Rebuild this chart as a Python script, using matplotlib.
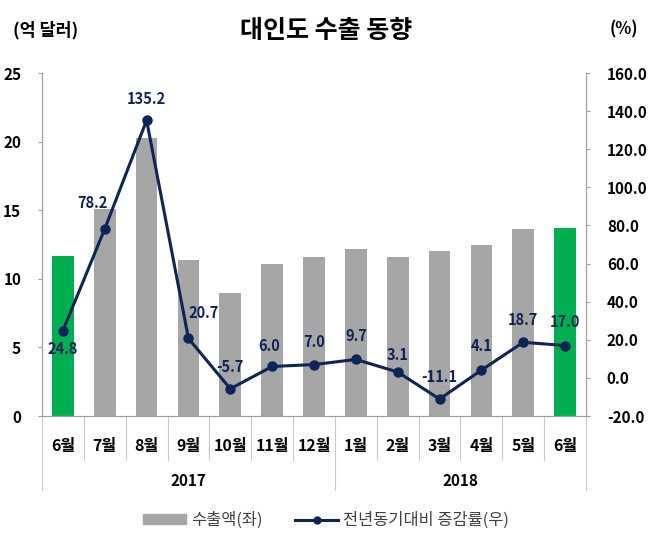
import matplotlib
matplotlib.use("Agg")
import matplotlib.pyplot as plt
from matplotlib.lines import Line2D
from matplotlib.patches import Patch

plt.rcParams['font.family'] = ['Noto Sans CJK KR', 'DejaVu Sans']

months = ["6월", "7월", "8월", "9월", "10월", "11월", "12월",
          "1월", "2월", "3월", "4월", "5월", "6월"]
years = ["2017", "2018"]
exports = [11.7, 15.1, 20.3, 11.4, 9.0, 11.1, 11.6, 12.2, 11.6, 12.0, 12.5, 13.6, 13.7]
growth = [24.8, 78.2, 135.2, 20.7, -5.7, 6.0, 7.0, 9.7, 3.1, -11.1, 4.1, 18.7, 17.0]

GRAY = "#A6A6A6"
GREEN = "#00B050"
NAVY = "#0D2457"
AXIS = "#A0A0A0"

# label offsets in points (dx, dy)
label_off = [(0, -13), (-9, 19), (0, 15), (11, 18), (0, 16), (-2, 15), (0, 16),
             (0, 17), (0, 12), (0, 16), (0, 17), (0, 16), (0, 17)]

fig = plt.figure(figsize=(6.52, 5.41), dpi=100)
ax = fig.add_axes([0.0644, 0.231, 0.8344, 0.634])
ax2 = ax.twinx()

x = list(range(len(months)))
colors = [GREEN] + [GRAY] * (len(months) - 2) + [GREEN]
ax.bar(x, exports, width=0.52, color=colors, zorder=2)

ax.set_xlim(-0.5, len(months) - 0.5)
ax.set_ylim(0, 25)
ax.set_yticks(range(0, 26, 5))
ax2.set_ylim(-20, 160)
ax2.set_yticks(range(-20, 161, 20))
ax2.set_yticklabels([f"{v:.1f}" for v in range(-20, 161, 20)])

for a in (ax, ax2):
    a.spines['top'].set_visible(False)
    for s in ('left', 'right', 'bottom'):
        a.spines[s].set_color(AXIS)
    a.tick_params(axis='y', length=3, color=AXIS, labelsize=11, pad=12)
    for lab in a.get_yticklabels():
        lab.set_fontweight('bold')

ax.set_xticks(x)
ax.set_xticklabels(months, fontsize=11.5, fontweight='bold')
ax.tick_params(axis='x', length=0, pad=16)

# category separators below the axis
trans = ax.get_xaxis_transform()
for i in range(len(months) + 1):
    pos = i - 0.5
    low = -0.216 if i in (0, 7, len(months)) else -0.128
    ax.plot([pos, pos], [0, low], transform=trans, color="#C8C8C8", lw=0.8, clip_on=False)

ax.text(3, -0.19, years[0], transform=trans, ha='center', va='center', fontsize=11, fontweight='bold')
ax.text(9.5, -0.19, years[1], transform=trans, ha='center', va='center', fontsize=11, fontweight='bold')

ax2.plot(x, growth, color=NAVY, lw=2.2, marker='o', markersize=6.5, zorder=3)
for xi, v, (dx, dy) in zip(x, growth, label_off):
    ax2.annotate(f"{v:.1f}", (xi, v), xytext=(dx, dy), textcoords='offset points',
                 ha='center', va='center', fontsize=10.5, fontweight='bold', color=NAVY)

fig.text(0.5, 0.943, "대인도 수출 동향", ha='center', va='center', fontsize=18, fontweight='bold')
fig.text(0.02, 0.945, "(억 달러)", ha='left', va='center', fontsize=12.5, fontweight='bold')
fig.text(0.978, 0.945, "(%)", ha='right', va='center', fontsize=12, fontweight='bold')

handles = [Patch(color=GRAY), Line2D([0], [0], color=NAVY, lw=2.2, marker='o', markersize=5)]
fig.legend(handles, ["수출액(좌)", "전년동기대비 증감률(우)"], loc='center',
           bbox_to_anchor=(0.5, 0.038), ncol=2, frameon=False, fontsize=11.8,
           handlelength=2.6, handleheight=0.6, columnspacing=2.0, handletextpad=0.3,
           labelcolor="#404040")

fig.savefig("out.png", dpi=100)
